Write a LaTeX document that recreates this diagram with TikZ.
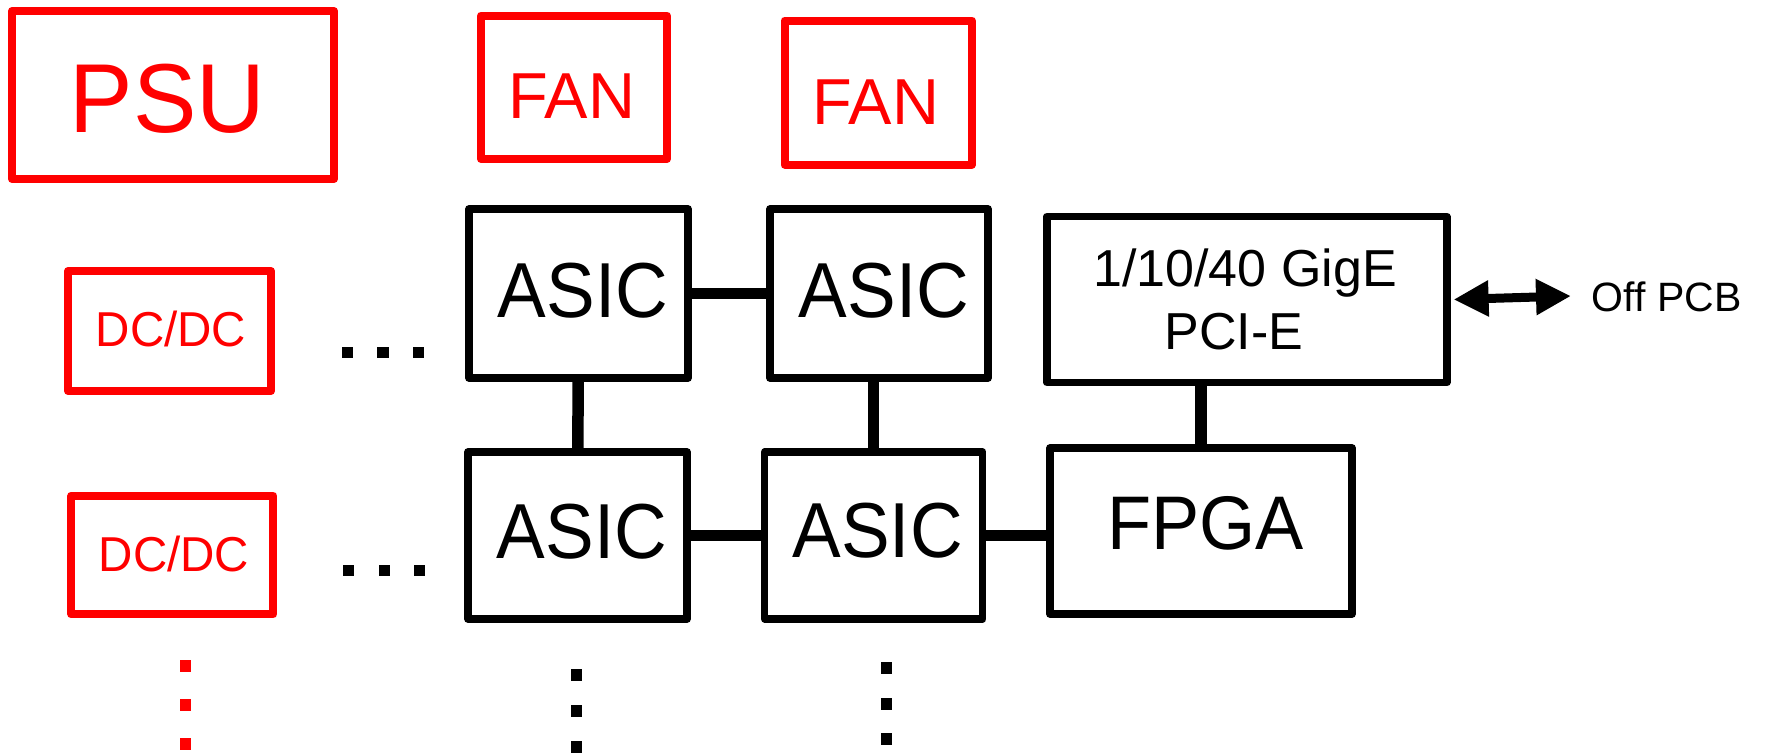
\documentclass[tikz,border=0pt]{standalone}
\usepackage{fontspec}
\setmainfont{Liberation Sans}
\newfontfamily\fPSU[FakeStretch=0.97]{Liberation Sans}
\newfontfamily\fFAN[FakeStretch=1.0]{Liberation Sans}
\newfontfamily\fDC[FakeStretch=0.97]{Liberation Sans}
\newfontfamily\fASIC[FakeStretch=0.935]{Liberation Sans}
\newfontfamily\fFPGA[FakeStretch=0.95]{Liberation Sans}
\usetikzlibrary{arrows.meta}
\definecolor{pred}{RGB}{255,0,0}
\begin{document}
\begin{tikzpicture}[x=1pt,y=-1pt,
  redbox/.style={draw=pred, line width=8pt, line join=round, inner sep=0pt},
  blkbox/.style={draw=black, line width=7.5pt, line join=round, inner sep=0pt},
  lbl/.style={inner sep=0pt, anchor=base},
  conn/.style={line width=11.5pt},
]
\fill[white] (0,0) rectangle (1765,753);
\useasboundingbox (0,0) rectangle (1765,753);

% red boxes
\node[redbox, minimum width=322pt, minimum height=168pt] (psu) at (173,95) {};
\node[redbox, minimum width=186pt, minimum height=143.5pt] (fan1) at (574,87.25) {};
\node[redbox, minimum width=187.5pt, minimum height=144pt] (fan2) at (878.25,92.5) {};
\node[redbox, minimum width=203pt, minimum height=120pt] (dc1) at (169.5,331) {};
\node[redbox, minimum width=202pt, minimum height=118.6pt] (dc2) at (172.3,555) {};

\node[lbl, text=pred, font=\fPSU\fontsize{98}{98}\selectfont] (psut) at (167.5,132) {PSU};
\node[lbl, text=pred, font=\fFAN\fontsize{65}{65}\selectfont] (fan1t) at (572,118.3) {FAN};
\node[lbl, text=pred, font=\fFAN\fontsize{65}{65}\selectfont] (fan2t) at (876,124) {FAN};
\node[lbl, text=pred, font=\fDC\fontsize{49}{49}\selectfont] (dc1t) at (171,346.7) {DC/DC};
\node[lbl, text=pred, font=\fDC\fontsize{49}{49}\selectfont] (dc2t) at (174,571) {DC/DC};

% black boxes
\node[blkbox, minimum width=219pt, minimum height=169pt] (tl) at (578.5,293.5) {};
\node[blkbox, minimum width=218pt, minimum height=169pt] (tr) at (879,293.5) {};
\node[blkbox, minimum width=219pt, minimum height=167pt] (bl) at (577.5,535.5) {};
\node[blkbox, minimum width=218pt, minimum height=167pt] (br) at (873.7,535.5) {};
\node[blkbox, minimum width=400pt, minimum height=166pt] (gige) at (1246.85,299.5) {};
\node[blkbox, minimum width=302pt, minimum height=166pt] (fpga) at (1201,531) {};

\node[lbl, font=\fASIC\fontsize{78}{78}\selectfont] (tlt) at (583,317) {ASIC};
\node[lbl, font=\fASIC\fontsize{78}{78}\selectfont] (trt) at (884,317) {ASIC};
\node[lbl, font=\fASIC\fontsize{78}{78}\selectfont] (blt) at (582,558) {ASIC};
\node[lbl, font=\fASIC\fontsize{78}{78}\selectfont] (brt) at (877.7,557.3) {ASIC};
\node[lbl, font=\fFPGA\fontsize{76}{76}\selectfont] (fpgat) at (1205.5,549.3) {FPGA};
\node[lbl, font=\fontsize{52}{52}\selectfont] (gige1) at (1245,286) {1/10/40 GigE};
\node[lbl, font=\fontsize{52}{52}\selectfont] (gige2) at (1234,349) {PCI-E};

% connectors
\draw[conn] (tl) -- (tr);
\draw[conn] (tl) -- (bl);
\draw[conn] (br.north |- tr.south) -- (br.north);
\draw[conn] (bl) -- (br);
\draw[conn] (br.east) -- (fpga.west |- br.east);
\draw[conn] (fpga.north) -- (fpga.north |- gige.south);

% off-board arrow
\coordinate (arrL) at ([xshift=3pt]gige.east);
\coordinate (arrR) at (1571,296);
\draw[line width=9pt, {Triangle[length=35pt,width=34pt]}-{Triangle[length=35pt,width=34pt]}] (arrL) -- (arrR);
\node[inner sep=0pt, anchor=base west, font=\fontsize{41}{41}\selectfont] (offpcb) at (1591.7,311.7) {Off PCB};

% ellipses
\foreach \x in {347.5,383,418.7} {\fill ({\x-5.75},346.7) rectangle ({\x+5.75},358.3);}
\foreach \x in {348.5,384.5,419.5} {\fill ({\x-5.75},564.7) rectangle ({\x+5.75},576.3);}
% vertical dots
\foreach \y in {666,705,744} {\fill[pred] (180,{\y-6}) rectangle (191,{\y+6});}
\foreach \y in {675,711,746.5} {\fill (570.5,{\y-6}) rectangle (581.5,{\y+6});}
\foreach \y in {667.5,703.5,738.5} {\fill (880.5,{\y-6}) rectangle (891.5,{\y+6});}
\end{tikzpicture}
\end{document}
